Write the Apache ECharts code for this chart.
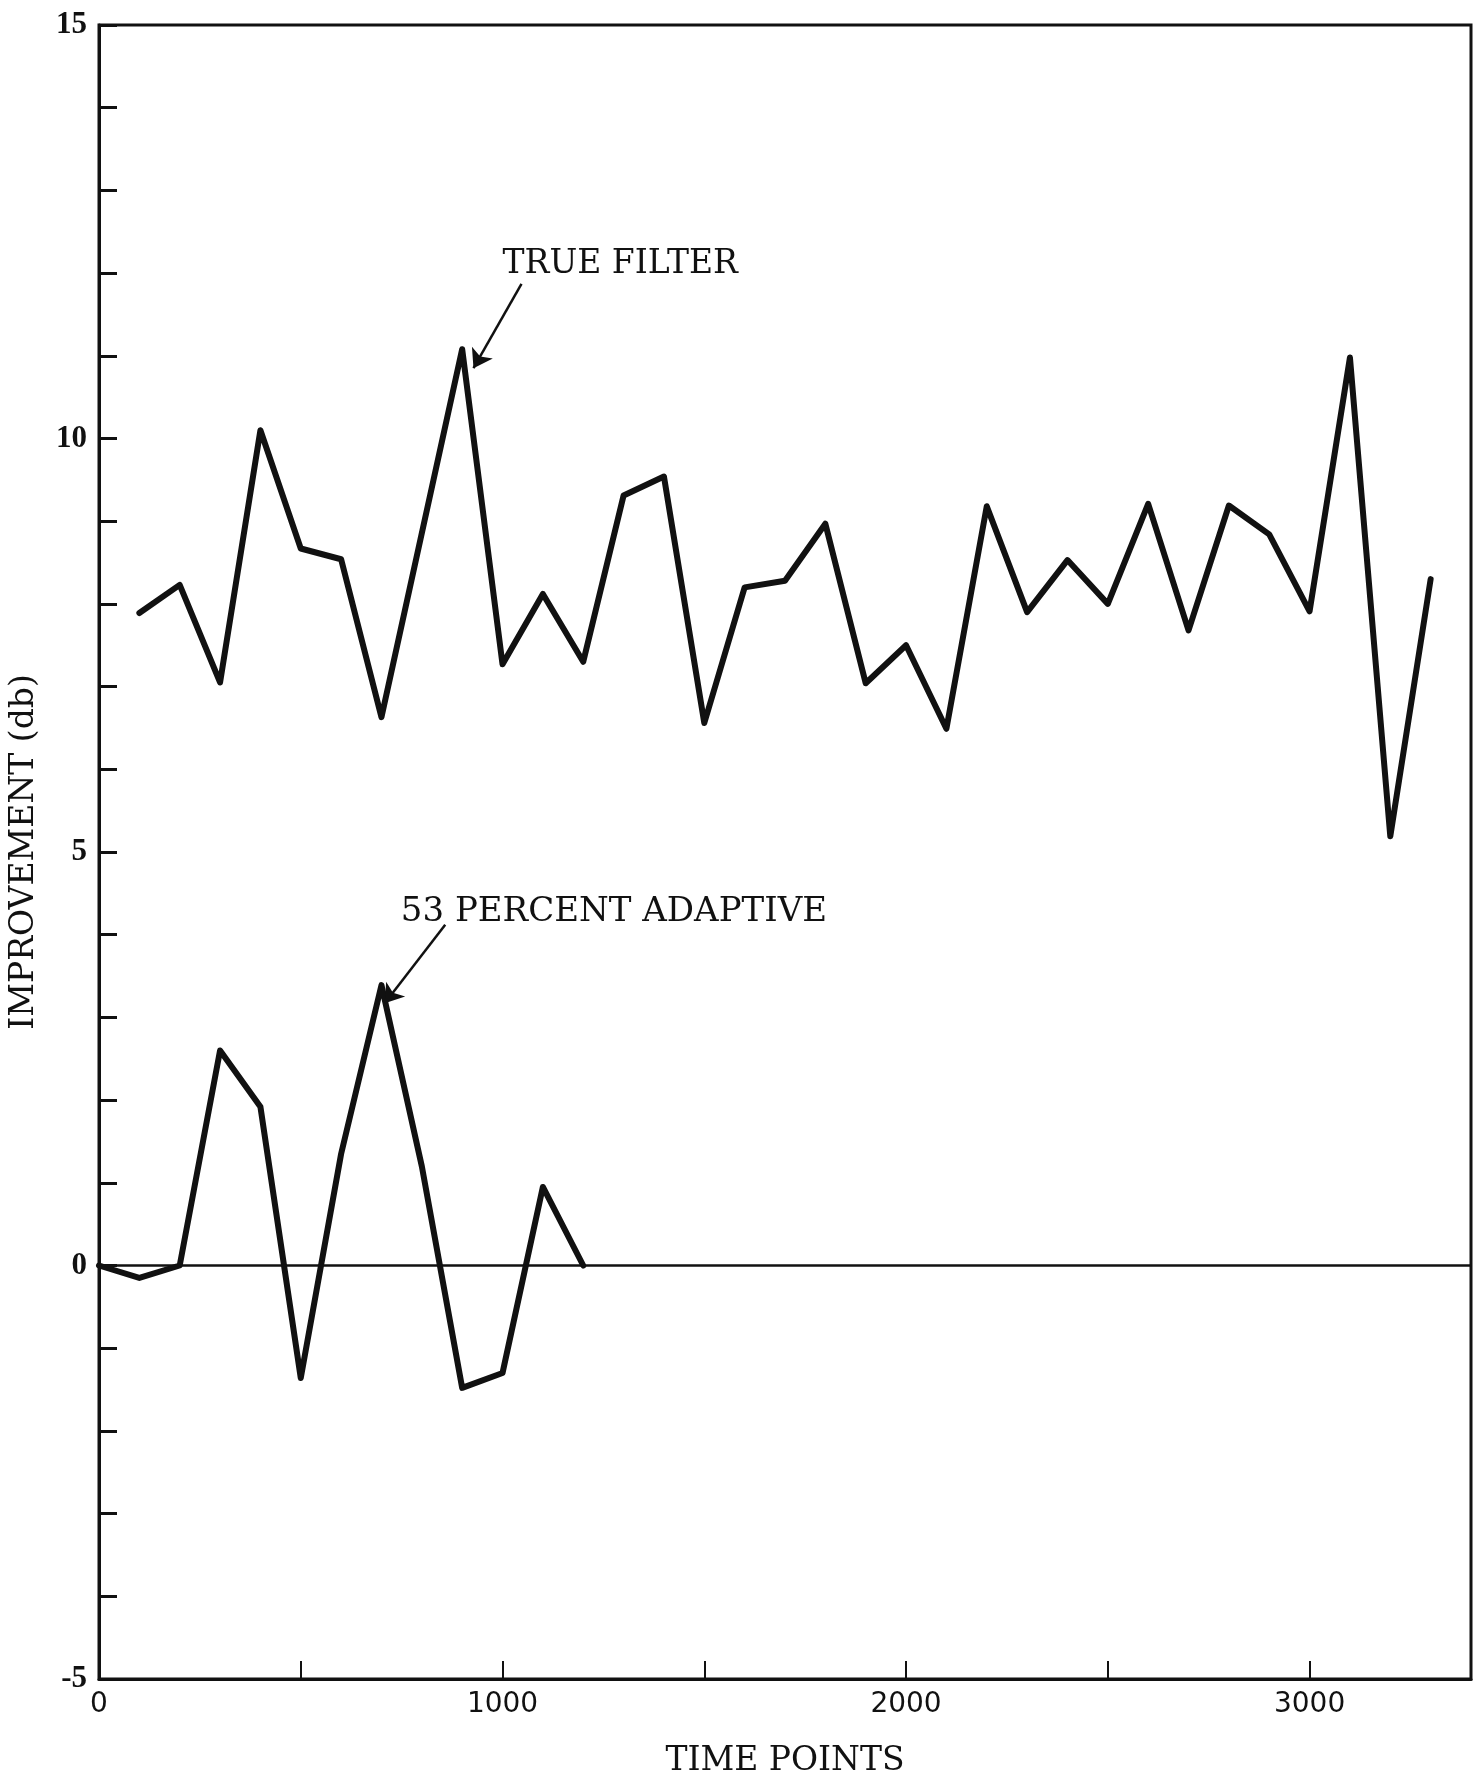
<!DOCTYPE html>
<html>
<head>
<meta charset="utf-8">
<script src="https://cdn.jsdelivr.net/npm/echarts@6/dist/echarts.min.js"></script>
<style>
html,body{margin:0;padding:0;background:#fff;}
#chart{width:1483px;height:1783px;}
</style>
</head>
<body>
<div id="chart"></div>
<script>
// Time points (x) and improvement in db (y)
const trueFilterTime = [100,200,300,400,500,600,700,900,1000,1100,1200,1300,1400,1500,1600,1700,1800,1900,2000,2100,2200,2300,2400,2500,2600,2700,2800,2900,3000,3100,3200,3300];
const trueFilterDb   = [7.89,8.23,7.05,10.10,8.67,8.54,6.63,11.08,7.27,8.12,7.30,9.31,9.54,6.56,8.20,8.28,8.97,7.04,7.50,6.49,9.18,7.90,8.53,8.00,9.21,7.68,9.19,8.84,7.91,10.98,5.19,8.30];

const adaptiveTime = [0,100,200,300,400,500,600,700,800,900,1000,1100,1200];
const adaptiveDb   = [0,-0.15,0,2.60,1.92,-1.36,1.35,3.39,1.20,-1.48,-1.30,0.95,0];

const yTicks = [-5,0,5,10,15];
const xTicks = [0,1000,2000,3000];

const annotations = [
  {text:'TRUE FILTER', label:[1000,12.11], tail:[1047,11.87], tip:[928,10.85]},
  {text:'53 PERCENT ADAPTIVE', label:[748,4.27], tail:[858,4.12], tip:[708,3.17]}
];

const zip = (xs, ys) => xs.map((x,i)=>[x, ys[i]]);

const chart = echarts.init(document.getElementById('chart'), null, {renderer:'canvas'});

const serif = '"DejaVu Serif", "Liberation Serif", serif';

function arrowLine(a){
  return {
    silent:true, symbol:['none','arrow'], symbolSize:18,
    lineStyle:{color:'#111', width:2.5, type:'solid'}, label:{show:false},
    data:[[{coord:a.tail},{coord:a.tip}]]
  };
}
function annoLabel(a, size){
  return {
    silent:true, symbol:'circle', symbolSize:0,
    data:[{coord:a.label, label:{show:true, position:'right', distance:0, formatter:a.text, fontFamily:serif, fontSize:size, color:'#111'}}]
  };
}

chart.setOption({
  animation:false,
  backgroundColor:'#ffffff',
  grid:{left:98, right:12, top:25, bottom:100, show:true, borderColor:'#111', borderWidth:3, backgroundColor:'transparent'},
  xAxis:{
    type:'value', min:0, max:3400, interval:500,
    name:'TIME POINTS', nameLocation:'middle', nameGap:66,
    nameTextStyle:{fontFamily:serif, fontSize:33, color:'#111'},
    axisLine:{show:true, onZero:false, lineStyle:{color:'#111', width:3}},
    axisTick:{show:true, inside:true, length:18, lineStyle:{color:'#111', width:2}},
    splitLine:{show:false},
    axisLabel:{
      margin:12, fontFamily:'"DejaVu Sans", sans-serif', fontSize:28, color:'#111',
      showMaxLabel:false,
      formatter:v => xTicks.indexOf(v) >= 0 ? String(v) : ''
    }
  },
  yAxis:{
    type:'value', min:-5, max:15, interval:1,
    name:'IMPROVEMENT (db)', nameLocation:'middle', nameGap:58, nameRotate:90,
    nameTextStyle:{fontFamily:serif, fontSize:33, color:'#111'},
    axisLine:{show:true, onZero:false, lineStyle:{color:'#111', width:3}},
    axisTick:{show:true, inside:true, length:18, lineStyle:{color:'#111', width:3}},
    splitLine:{show:false},
    axisLabel:{
      margin:12, fontFamily:'"Liberation Serif", serif', fontWeight:'bold', fontSize:31, color:'#111',
      formatter:v => yTicks.indexOf(v) >= 0 ? String(v) : ''
    }
  },
  series:[
    {
      name:'TRUE FILTER', type:'line', data:zip(trueFilterTime, trueFilterDb),
      symbol:'none', lineStyle:{color:'#111', width:6, join:'round', cap:'round'}, silent:true,
      markLine:arrowLine(annotations[0]),
      markPoint:annoLabel(annotations[0], 33)
    },
    {
      name:'53 PERCENT ADAPTIVE', type:'line', data:zip(adaptiveTime, adaptiveDb),
      symbol:'none', lineStyle:{color:'#111', width:6, join:'round', cap:'round'}, silent:true,
      markLine:{
        silent:true, symbol:['none','none'],
        lineStyle:{color:'#111', width:2.5, type:'solid'}, label:{show:false},
        data:[{yAxis:0}]
      }
    },
    {
      name:'annotation', type:'line', data:[], silent:true,
      markLine:arrowLine(annotations[1]),
      markPoint:annoLabel(annotations[1], 34)
    }
  ]
});
</script>
</body>
</html>
